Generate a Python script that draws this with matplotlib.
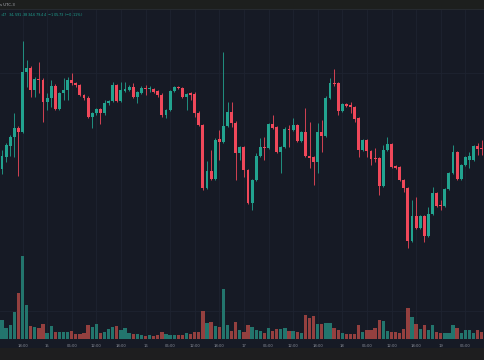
import numpy as np
import matplotlib
matplotlib.use('Agg')
import matplotlib.pyplot as plt
from matplotlib.patches import Rectangle

# hourly BTC/USD candles, index 0 = 14th 18:00 minus 5h
opens = [33310, 33430, 33540, 33630, 33720, 33680, 34280, 34320, 34100, 34210,
         34200, 33980, 34020, 34140, 33910, 34070, 34100, 34200, 34170, 34150,
         34050, 34020, 33830, 33870, 33910, 33870, 33970, 33990, 34150, 33990,
         34090, 34100, 34130, 34030, 34070, 34120, 34110, 34110, 34090, 34050,
         33850, 33900, 34090, 34130, 34120, 34030, 34070, 34060, 33870, 33750,
         33120, 33290, 33210, 33610, 33580, 33740, 33880, 33770, 33470, 33530,
         33300, 32970, 33200, 33440, 33530, 33520, 33760, 33730, 33480, 33530,
         33710, 33700, 33750, 33590, 33680, 33440, 33430, 33380, 33680, 33640,
         34020, 34170, 34170, 33890, 33960, 33950, 33930, 33820, 33500, 33600,
         33490, 33420, 33420, 33140, 33500, 33560, 33340, 33330, 33200, 33120,
         32590, 32840, 32720, 32840, 32640, 32860, 33070, 32950, 32940, 33110,
         33270, 33480, 33210, 33350, 33400, 33400, 33540, 33520, 33520]
highs = [33500, 33570, 33650, 33870, 33740, 34590, 34400, 34340, 34230, 34380,
         34220, 34070, 34200, 34160, 34080, 34220, 34230, 34270, 34180, 34160,
         34060, 34040, 33880, 33920, 33920, 34000, 34000, 34180, 34160, 34180,
         34180, 34150, 34170, 34090, 34140, 34150, 34140, 34120, 34100, 34070,
         33910, 34100, 34140, 34140, 34130, 34070, 34080, 34080, 33890, 33760,
         33390, 33500, 33620, 33700, 34480, 33980, 33980, 33790, 33540, 33540,
         33310, 33210, 33470, 33620, 33630, 33770, 33850, 33740, 33540, 33730,
         33750, 33820, 33760, 33690, 33920, 33780, 33440, 33770, 33800, 34040,
         34220, 34310, 34180, 33970, 33970, 33980, 33940, 33830, 33610, 33610,
         33500, 33520, 33430, 33550, 33630, 33570, 33350, 33340, 33210, 33130,
         33000, 33030, 32850, 32850, 32930, 33130, 33080, 33000, 33120, 33280,
         33550, 33490, 33360, 33440, 33480, 33550, 33570, 33600, 33650]
lows = [33260, 33380, 33440, 33430, 33240, 33670, 34130, 34030, 34030, 34070,
        33780, 33900, 33930, 33900, 33900, 34000, 34000, 34150, 34130, 34040,
        34000, 33820, 33720, 33850, 33760, 33850, 33950, 33980, 33980, 33980,
        34080, 34090, 34020, 33970, 34060, 34050, 34080, 34070, 34030, 33830,
        33820, 33890, 34080, 34110, 34020, 33900, 34000, 33830, 33740, 33100,
        33110, 33200, 33200, 33400, 33570, 33730, 33730, 33200, 33400, 33230,
        32960, 32900, 33190, 33430, 33400, 33510, 33710, 33470, 33270, 33520,
        33530, 33690, 33580, 33580, 33430, 33320, 33150, 33270, 33480, 33630,
        34010, 34140, 33850, 33880, 33930, 33870, 33780, 33430, 33490, 33430,
        33350, 33380, 33050, 33130, 33490, 33320, 33310, 33190, 33080, 32520,
        32580, 32710, 32710, 32580, 32630, 32850, 32930, 32900, 32930, 33100,
        33260, 33200, 33200, 33340, 33320, 33390, 33450, 33450, 33510]
closes = [33440, 33550, 33630, 33720, 33680, 34280, 34320, 34100, 34210, 34200,
          33980, 34020, 34140, 33910, 34070, 34100, 34200, 34170, 34150, 34050,
          34020, 33830, 33870, 33910, 33870, 33970, 33990, 34150, 33990, 34100,
          34110, 34130, 34030, 34080, 34120, 34110, 34120, 34080, 34050, 33850,
          33900, 34090, 34130, 34120, 34030, 34060, 34050, 33870, 33750, 33120,
          33290, 33210, 33600, 33580, 33740, 33880, 33770, 33470, 33530, 33300,
          32970, 33200, 33440, 33530, 33520, 33760, 33720, 33480, 33530, 33710,
          33700, 33750, 33590, 33680, 33440, 33420, 33380, 33680, 33640, 34020,
          34170, 34160, 33890, 33960, 33940, 33930, 33810, 33500, 33600, 33490,
          33410, 33410, 33140, 33500, 33560, 33330, 33320, 33200, 33120, 32590,
          32840, 32720, 32840, 32640, 32860, 33070, 32940, 32940, 33110, 33270,
          33480, 33210, 33350, 33430, 33440, 33540, 33510, 33510, 33630]
volumes = [190, 113, 140, 273, 457, 830, 340, 130, 123, 113,
           150, 63, 130, 70, 70, 70, 70, 83, 50, 50,
           57, 140, 117, 147, 57, 73, 97, 117, 130, 90,
           107, 57, 50, 50, 40, 30, 40, 30, 40, 70,
           50, 40, 40, 40, 40, 57, 47, 70, 70, 280,
           157, 170, 130, 117, 497, 140, 80, 170, 90, 73,
           140, 123, 90, 80, 63, 107, 83, 97, 97, 107,
           83, 83, 70, 63, 240, 207, 230, 147, 147, 157,
           163, 107, 90, 63, 50, 47, 50, 140, 73, 90,
           90, 107, 190, 180, 83, 70, 70, 63, 97, 307,
           223, 150, 103, 137, 90, 140, 73, 57, 57, 57,
           140, 107, 63, 90, 90, 63, 90, 73, 83]

tick_pos = [5, 11, 17, 23, 29, 35, 41, 47, 53, 59, 65, 71, 77, 83, 89, 95, 101, 107, 113]
tick_labels = ['18:00', '15', '06:00', '12:00', '18:00', '16', '06:00', '12:00', '18:00',
               '17', '06:00', '12:00', '18:00', '18', '06:00', '12:00', '18:00', '19', '06:00']

bg = '#161a25'
up = '#22a38f'
down = '#f0485a'
vol_up = '#23756d'
vol_down = '#94403f'
grid_col = '#1e2330'

o = np.array(opens)
h = np.array(highs)
l = np.array(lows)
c = np.array(closes)
v = np.array(volumes)
x = np.arange(len(o))
rising = c >= o

fig = plt.figure(figsize=(4.85, 3.6), dpi=100)
fig.patch.set_facecolor(bg)

# top toolbar strip and bottom strip
fig.patches.append(Rectangle((0, 351/360.), 1, 9/360., transform=fig.transFigure,
                             facecolor='#1d1f1e', edgecolor='none', zorder=0))
fig.patches.append(Rectangle((0, 350/360.), 1, 1/360., transform=fig.transFigure,
                             facecolor='#262a30', edgecolor='none', zorder=0))
fig.patches.append(Rectangle((0, 0), 1, 12/360., transform=fig.transFigure,
                             facecolor='#1e1e1f', edgecolor='none', zorder=0))

pos = [0, 21/360., 1, 329/360.]
xlim = (-0.49, 117.8)

# volume overlay at the bottom of the pane
axv = fig.add_axes(pos)
axv.patch.set_alpha(0)
axv.bar(x[rising], v[rising], 0.82, color=vol_up, linewidth=0)
axv.bar(x[~rising], v[~rising], 0.82, color=vol_down, linewidth=0)
axv.set_xlim(*xlim)
axv.set_ylim(0, 3290)
axv.set_yticks([280])
axv.set_xticks(tick_pos)
axv.grid(True, color=grid_col, linewidth=0.6)
axv.set_axisbelow(True)
axv.tick_params(left=False, bottom=False, labelleft=False, labelbottom=False)
for s in axv.spines.values():
    s.set_visible(False)

# candles
ax = fig.add_axes(pos)
ax.patch.set_alpha(0)
col = np.where(rising, up, down)
ax.vlines(x, l, h, colors=col, linewidth=0.6)
body = np.maximum(np.abs(c - o), 8)
ax.bar(x, body, 0.72, bottom=np.minimum(o, c), color=col, linewidth=0)
ax.set_xlim(*xlim)
ax.set_ylim(31610, 34900)
ax.set_yticks([34270])
ax.grid(True, axis='y', color=grid_col, linewidth=0.6)
ax.set_axisbelow(True)
ax.set_xticks(tick_pos)
ax.set_xticklabels(tick_labels)
ax.tick_params(left=False, bottom=False, labelleft=False, length=0,
               labelsize=2.7, labelcolor='#8c909a', pad=3.5)
for s in ax.spines.values():
    s.set_visible(False)

fig.text(0.0, 355.5/360., 's UTC-3', fontsize=2.8, color='#b0b3ba', va='center')
fig.text(0.0, 345.5/360., ':47  $34,591.38  $34,679.44  \u2212105.73 (\u22120.11%)',
         fontsize=2.6, color='#1f9a8a', va='center')

plt.savefig('out.png', dpi=100, facecolor=fig.get_facecolor())
